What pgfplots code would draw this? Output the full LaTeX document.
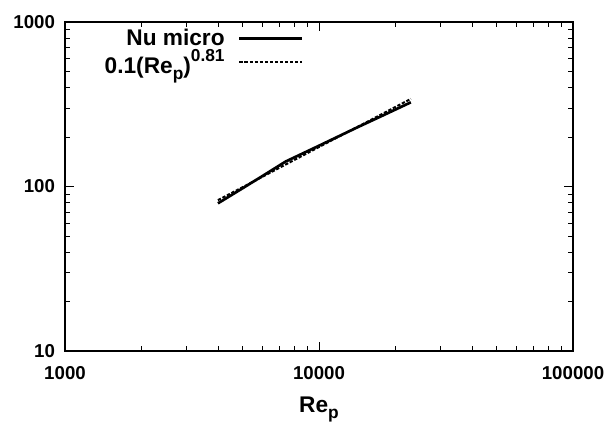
\documentclass[border=0pt]{standalone}
\usepackage{fontspec}
\setmainfont{Liberation Sans}
\usepackage{pgfplots}
\pgfplotsset{compat=1.18}
\begin{document}
\begin{tikzpicture}
\begin{loglogaxis}[
  scale only axis, width=381pt, height=246.75pt,
  xmin=1000, xmax=100000, ymin=10, ymax=1000,
  xtick={1000,10000,100000},
  xticklabels={\textbf{1000},\textbf{10000},\textbf{100000}},
  ytick={10,100,1000},
  yticklabels={\textbf{10},\textbf{100},\textbf{1000}},
  tick label style={font=\fontsize{14}{16}\selectfont\bfseries},
  xticklabel style={yshift=-8pt},
  yticklabel style={xshift=-4pt},
  tick align=inside,
  major tick length=6.5pt, minor tick length=3.5pt,
  every tick/.style={black, line width=0.6pt},
  axis line style={line width=1pt},
  xlabel={\textbf{Re}\raisebox{-0.5ex}{\fontsize{13}{15}\selectfont\bfseries p}},
  xlabel style={font=\fontsize{17}{20}\selectfont\bfseries, yshift=-6pt},
  legend style={draw=none, fill=none, at={(0.478,0.995)}, anchor=north east,
    font=\fontsize{17}{19}\selectfont\bfseries, row sep=-3pt},
  legend plot pos=right,
  legend cell align=right,
  legend image code/.code={\path (0pt,0pt); \draw[#1] (8pt,0pt) -- (55pt,0pt);},
]
\addlegendimage{black, line width=2.2pt}
\addlegendentry{Nu micro}
\addlegendimage{black, line width=2pt, dash pattern=on 2.5pt off 1.3pt}
\addlegendentry{0.1(Re\raisebox{-0.5ex}{\fontsize{13}{15}\selectfont p})\raisebox{1.0ex}{\fontsize{13}{15}\selectfont 0.81}}
\addplot[black, line width=2pt, forget plot] coordinates {
  (4000,79) (5000,97.5) (6000,116) (7400,142) (10000,177)
  (14000,227) (18000,272) (23000,325)
};
\addplot[black, line width=1.5pt, dash pattern=on 2.5pt off 1.3pt, forget plot] coordinates {
  (4000,82.6) (6000,114.8) (8000,145) (10000,173.8)
  (14000,228) (18000,279.6) (23000,341)
};
\end{loglogaxis}
\pgfresetboundingbox
\path (current axis.south west) ++(-48.75pt,-57.75pt) coordinate (a);
\path (current axis.north east) ++(26.25pt,16.5pt) coordinate (b);
\path[use as bounding box] (a) rectangle (b);
\end{tikzpicture}
\end{document}
